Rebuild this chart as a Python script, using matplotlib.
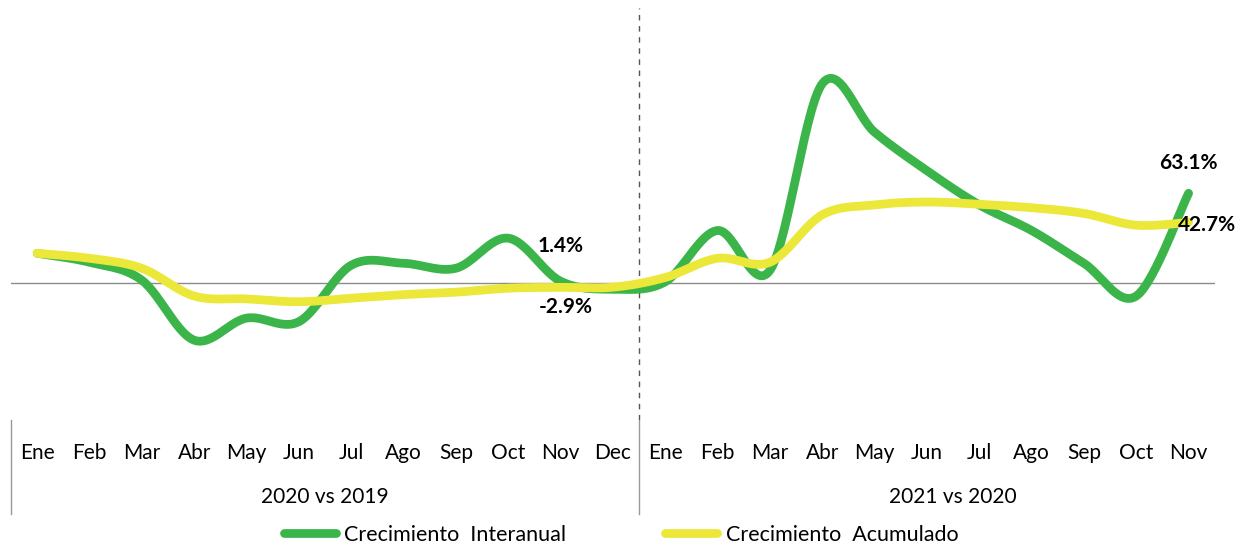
import numpy as np
import matplotlib.pyplot as plt
from matplotlib.lines import Line2D
from matplotlib.transforms import blended_transform_factory

plt.rcParams['font.family'] = ['Lato', 'DejaVu Sans']

months_2020 = ["Ene", "Feb", "Mar", "Abr", "May", "Jun", "Jul", "Ago", "Sep", "Oct", "Nov", "Dec"]
months_2021 = ["Ene", "Feb", "Mar", "Abr", "May", "Jun", "Jul", "Ago", "Sep", "Oct", "Nov"]
groups = ["2020 vs 2019", "2021 vs 2020"]

interanual = [21, 14.7, 2.1, -40, -24.5, -27, 12.6, 14, 10.5, 31.6, 1.4, -4.2,
              1, 37, 9, 140, 106, 79, 55, 37, 14, -9, 63.1]
acumulado = [21, 17.5, 10.5, -9, -11, -13, -10.5, -8, -6.3, -3.5, -2.9, -2.8,
             4, 17.5, 14.7, 48, 55, 57, 55.4, 53, 49, 40.7, 42.7]

green = "#3bb54a"
yellow = "#ebe83a"


def smooth(x, y, n=30):
    # excel-style smoothed line (bezier through the points)
    x = np.asarray(x, float)
    y = np.asarray(y, float)
    px = np.concatenate([[x[0]], x, [x[-1]]])
    py = np.concatenate([[y[0]], y, [y[-1]]])
    t = np.linspace(0, 1, n)
    xs, ys = [], []
    for i in range(1, len(px) - 2):
        p0 = np.array([px[i], py[i]])
        p3 = np.array([px[i + 1], py[i + 1]])
        p1 = p0 + (p3 - np.array([px[i - 1], py[i - 1]])) / 6
        p2 = p3 - (np.array([px[i + 2], py[i + 2]]) - p0) / 6
        b = ((1 - t) ** 3)[:, None] * p0 + (3 * (1 - t) ** 2 * t)[:, None] * p1 \
            + (3 * (1 - t) * t ** 2)[:, None] * p2 + (t ** 3)[:, None] * p3
        xs.append(b[:, 0])
        ys.append(b[:, 1])
    return np.concatenate(xs), np.concatenate(ys)


fig = plt.figure(figsize=(12.5, 5.49), dpi=100)
ax = fig.add_axes([0.0088, 0.235, 0.963, 0.750])

x = np.arange(len(interanual))
gx, gy = smooth(x, interanual)
yx, yy = smooth(x, acumulado)

ax.axhline(0, color="#8c8c8c", lw=1, zorder=1)
ax.axvline(11.5, color="#555555", lw=1, ls=(0, (4, 4)), zorder=1)
ax.plot(gx, gy, color=green, lw=6.3, solid_capstyle="round", zorder=2)
ax.plot(yx, yy, color=yellow, lw=6.3, solid_capstyle="round", zorder=3)

ax.set_xlim(-0.5, 22.5)
ax.set_ylim(-96, 193)
ax.axis("off")

# data labels
ax.text(10, 1.4 + 25, "1.4%", ha="center", va="center", fontsize=15, fontweight="bold")
ax.text(10.1, -2.9 - 14, "-2.9%", ha="center", va="center", fontsize=15, fontweight="bold")
ax.text(22, 63.1 + 21, "63.1%", ha="center", va="center", fontsize=15, fontweight="bold")
ax.text(21.8, 42.7 - 2, "42.7%", ha="left", va="center", fontsize=15, fontweight="bold")

# two-level category axis
tr = blended_transform_factory(ax.transData, fig.transFigure)
labels = months_2020 + months_2021
for i, lab in enumerate(labels):
    ax.text(i, 1 - 453 / 549, lab, transform=tr, ha="center", va="center", fontsize=15)
ax.text(5.5, 1 - 497 / 549, groups[0], transform=tr, ha="center", va="center", fontsize=15)
ax.text(17.5, 1 - 497 / 549, groups[1], transform=tr, ha="center", va="center", fontsize=15)
for xv in [-0.5, 11.5]:
    ax.add_line(Line2D([xv, xv], [1 - 420 / 549, 1 - 514 / 549], transform=tr,
                       color="#999999", lw=1, clip_on=False))

handles = [Line2D([], [], color=green, lw=6.3, solid_capstyle="round"),
           Line2D([], [], color=yellow, lw=6.3, solid_capstyle="round")]
fig.legend(handles, ["Crecimiento  Interanual", "Crecimiento  Acumulado"], ncol=2,
           loc="center", bbox_to_anchor=(0.497, 1 - 535 / 549), frameon=False,
           fontsize=15.5, handlelength=2.4, columnspacing=4.6, handletextpad=0.4)

fig.savefig("out.png", dpi=100)
